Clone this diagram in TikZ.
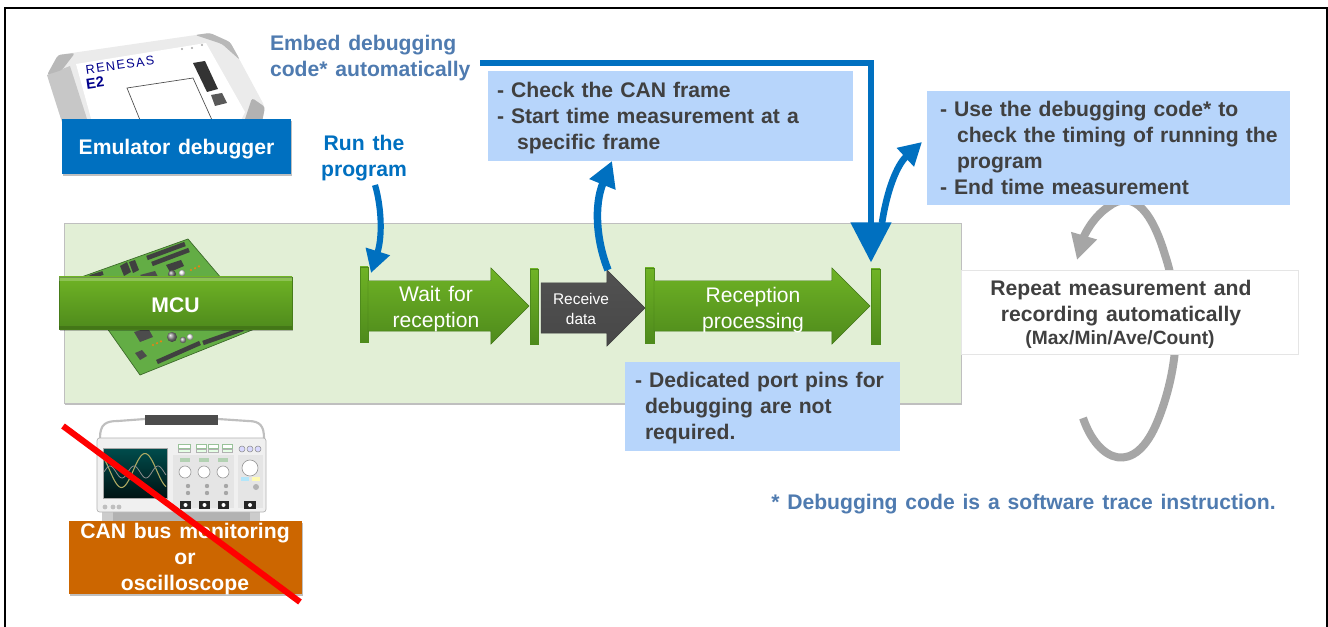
\documentclass[tikz,border=0pt]{standalone}
\usepackage{fontspec}
\setmainfont[WordSpace=1.33]{Liberation Sans}
\usetikzlibrary{arrows.meta,shapes.arrows,shadows,calc}
\definecolor{panelgreen}{HTML}{E2EFD6}
\definecolor{boxblue}{HTML}{B7D5FB}
\definecolor{rblue}{HTML}{0070C0}
\definecolor{steel}{HTML}{4F7BB0}
\definecolor{ink}{HTML}{404040}
\definecolor{orangebox}{HTML}{CC6600}
\definecolor{gtop}{HTML}{6FB325}
\definecolor{gbot}{HTML}{4E8A1C}
\definecolor{pcb}{HTML}{63AD45}
\definecolor{loopgray}{HTML}{A6A6A6}
\newcommand\fbig{\fontsize{15.85}{19.5}\selectfont\bfseries}
\newcommand\fsmall{\fontsize{14.4}{15}\selectfont\bfseries}
\newcommand\freg{\fontsize{15.8}{19.5}\selectfont}
\newcommand\ftiny{\fontsize{11.6}{15}\selectfont}
\newcommand\topfix{\rule{0pt}{14.5pt}}
\tikzset{
  softshadow/.style={drop shadow={shadow xshift=0.6pt,shadow yshift=-1.6pt,opacity=.25,fill=black}},
  notebox/.style={draw=none,fill=boxblue,anchor=north west,inner xsep=0pt,inner ysep=0pt,outer sep=0pt,align=left,font=\fbig,text=ink},
  labelbox/.style={anchor=north west,inner sep=0pt,outer sep=0pt,align=center,font=\fbig,text=white,softshadow},
  stopbar/.style={rectangle,anchor=north west,inner sep=0pt,outer sep=0pt,minimum width=6.8pt,minimum height=56.5pt,top color=gtop,bottom color=gbot,draw=gbot,line width=.2pt},
  flow/.style={single arrow,anchor=tail,inner sep=0pt,outer sep=0pt,single arrow head indent=0pt,single arrow head extend=9.75pt,top color=gtop,bottom color=gbot,draw=gbot!85!black,line width=.3pt},
  flowtext/.style={align=center,inner sep=0pt,font=\freg,text=white},
  heavy/.style={draw=rblue,line width=3.9pt,-{Triangle[width=30pt,length=30pt]}},
  curved/.style={draw=rblue,line width=5pt,-{Triangle[width=18pt,length=17pt]}},
  loopline/.style={draw=loopgray,line width=6pt,-{Triangle[width=19pt,length=19pt]}},
  pcbbar/.style={line width=3.4pt,draw=black!75},
}
\begin{document}
\begin{tikzpicture}[x=0.75pt,y=-0.75pt]
\useasboundingbox (0,0) rectangle (1328,627);
\fill[white] (0,0) rectangle (1328,627);
% outer frame
\draw[line width=1.9pt,black] (5,627) -- (5,8) -- (1327,8) -- (1327,627);

% grey repeat loop (behind boxes)
\coordinate (loopend) at (1083,418);
\coordinate (looptip) at (1077,260);
\draw[loopline] (loopend) .. controls (1098,462) and (1135,478) .. (1158,420)
   .. controls (1182,360) and (1180,300) .. (1165,255)
   .. controls (1150,205) and (1130,190) .. (1108,207)
   .. controls (1092,218) and (1084,236) .. (looptip);

% green panel
\node[anchor=north west,inner sep=0pt,outer sep=0pt,minimum width=673pt,minimum height=135pt,fill=panelgreen,draw=black!25,line width=.3pt,softshadow] (panel) at (64,223) {};

% circuit board picture
\fill[pcb] (188,239) -- (73,280) -- (140,375) -- (262,326) -- cycle;
\draw[pcb!60!black,line width=.5pt] (188,239) -- (73,280) -- (140,375) -- (262,326) -- cycle;
\draw[pcbbar] (147,258) -- (185,244);
\draw[pcbbar] (152,264) -- (189,250);
\draw[pcbbar] (157,362) -- (200,343);
\draw[pcbbar] (203,343) -- (243,329);
\draw[pcbbar,line width=3pt] (90,277) -- (103,273);
\fill[black!75] (120,266) -- (127,262) -- (131,272) -- (124,276) -- cycle;
\fill[black!75] (129,262) -- (135,260) -- (139,270) -- (133,273) -- cycle;
\fill[black!75] (166,265) -- (181,260) -- (184,266) -- (170,272) -- cycle;
\fill[black!70] (140,275) -- (155,271) -- (158,277) -- (142,277) -- cycle;
\shade[ball color=black!50] (172,274) circle (4);
\shade[ball color=white] (182,273) circle (3.2);
\fill[black!70] (134,332) -- (148,328) -- (153,337) -- (140,342) -- cycle;
\fill[black!70] (135,353) -- (142,350) -- (147,356) -- (140,360) -- cycle;
\shade[ball color=black!45] (172,337) circle (5);
\shade[ball color=black!35] (183,340) circle (3.2);
\shade[ball color=white] (190,337) circle (3.2);
\foreach \d in {0,4,8}{\fill[orange!70!brown] (191+\d,270-\d*.45) circle (1.2);\fill[orange!70!brown] (153+\d,345-\d*.45) circle (1.2);}

% MCU label
\node[labelbox,minimum width=174.75pt,minimum height=39pt,top color=gtop,bottom color=gbot,draw=gbot!90!black,line width=.3pt] (mcu) at (59,277) {\topfix MCU};
\fill[white,opacity=.22] (mcu.north west) rectangle ([yshift=-3pt]mcu.north east);
\fill[black,opacity=.15] ([yshift=2pt]mcu.south west) rectangle (mcu.south east);

% emulator picture
\fill[black!8,rounded corners=3pt] (47,75) -- (58,55) -- (210,33) -- (230,42) -- (265,107) -- (262,122) -- (62,122) -- cycle;
\fill[black!22] (47,75) -- (62,122) -- (88,122) -- (70,66) -- cycle;
\fill[black!28,rounded corners=2pt] (47,75) -- (58,55) -- (75,53) -- (62,70) -- cycle;
\fill[black!28,rounded corners=2pt] (195,35) -- (210,33) -- (230,42) -- (240,60) -- (222,44) -- cycle;
\fill[black!30,rounded corners=2pt] (252,98) -- (265,107) -- (262,122) -- (244,122) -- cycle;
\fill[white] (76,64) -- (206,43) -- (245,112) -- (240,122) -- (92,122) -- cycle;
\draw[black!70,line width=.5pt,fill=white] (140,120) -- (127,88) -- (193,78) -- (212,120);
\fill[black!80] (193,63) -- (205,61) -- (218,89) -- (207,92) -- cycle;
\fill[black!65] (211,95) -- (222,93) -- (227,103) -- (215,106) -- cycle;
\foreach \x/\y in {182/49,192/48,202/45}{\fill[black!35] (\x,\y) circle (1.2);}
\node[rotate=8,inner sep=0pt,font=\fontsize{9.5}{9.5}\selectfont\addfontfeatures{LetterSpace=11},text=blue!55!black] (brand) at (120,65) {RENESAS};
\node[rotate=8,inner sep=0pt,font=\fontsize{11}{11}\selectfont\bfseries,text=blue!55!black] (model) at (95,83) {E2};

\node[labelbox,fill=rblue,minimum width=171.75pt,minimum height=41.5pt] (emu) at (62,119) {\topfix Emulator debugger};

% oscilloscope picture
\draw[black!25,line width=1.6pt] (100,438) .. controls (100,424) and (106,421) .. (118,421) -- (145,419);
\draw[black!25,line width=1.6pt] (218,419) -- (248,421) .. controls (260,421) and (264,426) .. (264,438);
\fill[black!70] (145,415) rectangle (218,425);
\fill[black!20] (102,510) rectangle (113,521);
\fill[black!20] (250,510) rectangle (260,521);
\fill[black!30] (113,512) rectangle (250,521);
\draw[black!30,fill=black!6,rounded corners=2pt,line width=.5pt] (97,438) rectangle (266,512);
\fill[black!10] (173,455) rectangle (234,508);
\fill[black!10] (238,455) rectangle (263,508);
\draw[black!35,top color=teal!60!black,bottom color=black!85!teal,line width=.6pt] (103,448) rectangle (167,498);
\draw[yellow!55!black!80,line width=.8pt] plot[domain=104:166,samples=50] (\x,{470.5-17*sin((\x-133.25)*7.66)});
\draw[black!45,line width=.6pt] plot[domain=104:166,samples=60] (\x,{472-6*sin((\x-104)*15)});
\foreach \x in {185,204,223}{
  \fill[green!40!black!30] (\x-5,458) rectangle (\x+5,462);
  \draw[black!40,fill=white,line width=.5pt] (\x,472) circle (6);
  \fill[black!35] (\x+3,486) circle (2.2);
  \fill[black!35] (\x+3,493) circle (2.2);
  \fill[black!85] (\x-5,501) rectangle (\x+6,509);
  \fill[white] (\x+.5,505) circle (2);
}
\draw[black!40,fill=white,line width=.5pt] (250,468) circle (8);
\fill[black!85] (244,501) rectangle (256,509);
\fill[white] (250,505) circle (2);
\fill[black!30] (256,487) circle (3);
\fill[cyan!30] (241,477) rectangle (249,481);
\fill[yellow!30] (252,477) rectangle (260,481);
\foreach \x/\w in {184/6,201/5,213/5,227/5}{
  \draw[green!40!black!40,fill=white,line width=.4pt] (\x-\w,444) rectangle (\x+\w,448);
  \draw[black!30,fill=green!10,line width=.4pt] (\x-\w,449) rectangle (\x+\w,452);
}
\foreach \x in {242,250,258}{\draw[black!45,fill=blue!15,line width=.4pt] (\x,449) circle (3);}
\foreach \x in {105,113,119}{\fill[black!25] (\x,507) circle (2.4);}

\node[labelbox,fill=orangebox,minimum width=174.75pt,minimum height=54.75pt] (can) at (69,521) {};
\node[inner sep=0pt,align=center,font=\fbig,text=white] (cantext) at (185,559) {CAN bus monitoring\\or\\oscilloscope};

% blue notes
\node[notebox,text width=273.75pt,minimum height=67.5pt] (check) at (488,71)
  {\topfix\hspace*{6.75pt}- Check the CAN frame\\\hspace*{6.75pt}- Start time measurement at a\\\hspace*{21.75pt}specific frame};
\node[notebox,text width=272.25pt,minimum height=85.5pt] (use) at (927,91)
  {\hspace*{9.75pt}- Use the debugging code* to\\\hspace*{22.5pt}check the timing of running the\\\hspace*{22.5pt}program\\\hspace*{9.75pt}- End time measurement};
\node[notebox,text width=206.25pt,minimum height=66.75pt] (ports) at (625,362)
  {\topfix\hspace*{7.5pt}- Dedicated port pins for\\\hspace*{15pt}debugging are not\\\hspace*{15pt}required.};

% repeat box
\node[anchor=north west,inner sep=0pt,outer sep=0pt,minimum width=252.75pt,minimum height=63pt,fill=white,draw=black!10,line width=.4pt] (repeatbox) at (961,270) {};
\node[inner sep=0pt,align=center,font=\fbig,text=ink] (repeattext) at (1121,303) {Repeat measurement and\\recording automatically};
\node[inner sep=0pt,font=\fsmall,text=ink] (repeatsub) at (1120,340) {(Max/Min/Ave/Count)};

% process bars and arrows
\node[stopbar,minimum width=6pt] (b1) at (360,267) {};
\node[flow,minimum height=120.75pt] (wait) at (368,306) {\rule{0pt}{37.5pt}};
\node[stopbar,minimum width=6pt] (b2) at (530,269) {};
\node[flow,minimum height=78pt,top color=black!68,bottom color=black!72,draw=black!75] (recv) at (541,308) {\rule{0pt}{37.5pt}};
\node[stopbar] (b3) at (645,268) {};
\node[flow,minimum height=162pt] (proc) at (654,306) {\rule{0pt}{37.5pt}};
\node[stopbar] (b4) at (871,269) {};
\node[flowtext] (waitt) at (436,309) {Wait for\\reception};
\node[flowtext,font=\ftiny] (recvt) at (581,309) {Receive\\data};
\node[flowtext] (proct) at (753,310) {Reception\\processing};

% free text
\node[anchor=west,inner sep=0pt,outer sep=0pt,align=left,font=\fbig,text=steel] (embed) at (270,58) {Embed debugging\\code* automatically};
\node[inner sep=0pt,align=center,font=\fbig,text=rblue] (run) at (364,158) {Run the\\program};
\node[anchor=west,inner sep=0pt,font=\fbig,text=steel] (foot) at (771,504) {* Debugging code is a software trace instruction.};

% connectors
\coordinate (corner) at (871,63);
\coordinate (embedout) at (480,63);
\coordinate (runfrom) at (375,185);
\coordinate (runtip) at (371,273);
\coordinate (recvtop) at (608,270);
\coordinate (checktip) at (612,161);
\coordinate (proctop) at (882,223);
\coordinate (usetip) at (922,142);
\draw[heavy,shorten >=5pt] (embedout) -- (corner) -- (corner |- b4.north);
\draw[curved,line width=4.6pt] (runfrom) .. controls (381,205) and (383,235) .. (runtip);
\draw[curved,line width=5.6pt,-{Triangle[width=20pt,length=19pt]}] (recvtop) .. controls (596,240) and (594,205) .. (checktip);
\draw[curved,line width=5pt] (proctop) .. controls (887,190) and (897,165) .. (usetip);

% crossing-out line
\coordinate (crossa) at (63,426);
\coordinate (crossb) at (300,602);
\draw[red,line width=4.6pt] (crossa) -- (crossb);
\end{tikzpicture}
\end{document}
